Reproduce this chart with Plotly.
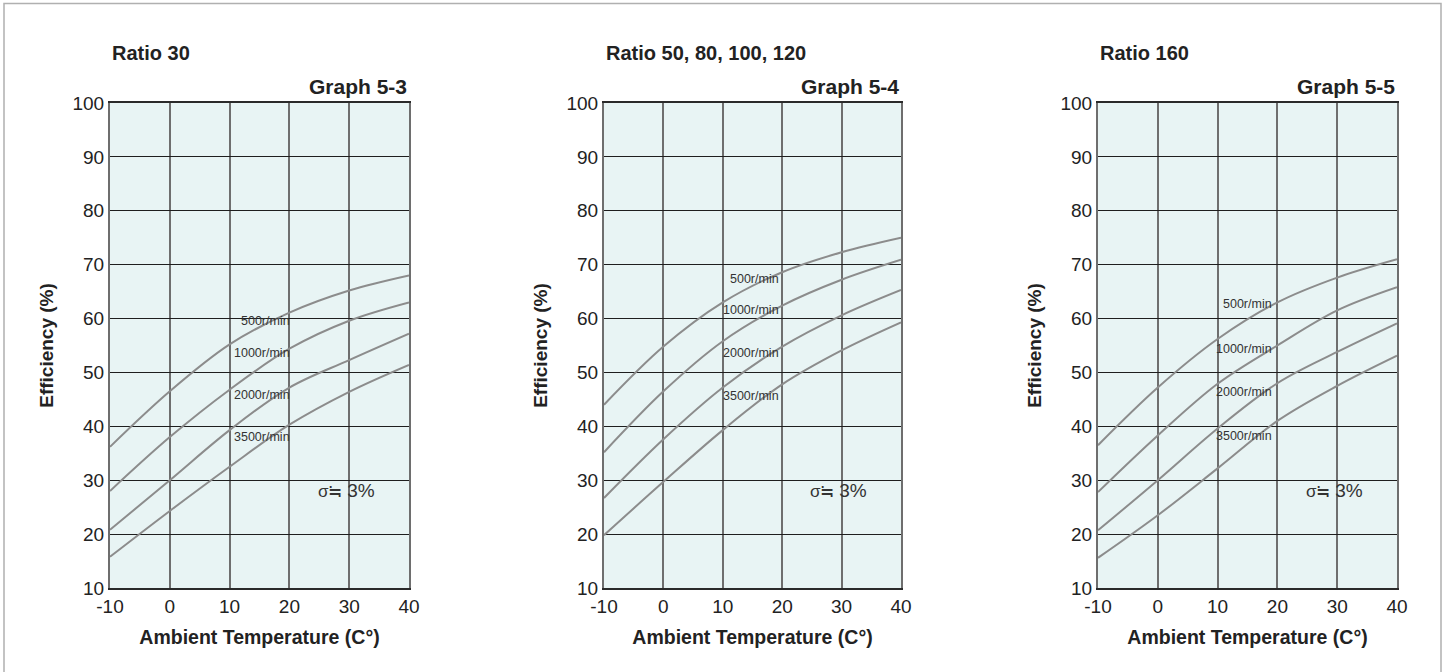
import plotly.graph_objects as go

# ---- data ----
temps = [-10, 0, 10, 20, 30, 40]
speeds = ["500r/min", "1000r/min", "2000r/min", "3500r/min"]

ratio30_500 = [36.2, 46.5, 55.2, 61.1, 65.2, 68.0]
ratio30_1000 = [28.0, 38.0, 46.8, 54.4, 59.6, 63.0]
ratio30_2000 = [20.8, 30.0, 39.3, 47.2, 52.3, 57.2]
ratio30_3500 = [15.8, 24.3, 32.5, 40.3, 46.4, 51.4]

ratio50_500 = [44.0, 54.8, 63.0, 68.6, 72.3, 75.0]
ratio50_1000 = [35.2, 46.5, 55.8, 62.4, 67.2, 70.9]
ratio50_2000 = [26.7, 37.6, 47.2, 54.8, 60.6, 65.3]
ratio50_3500 = [19.8, 29.7, 39.3, 47.8, 54.1, 59.3]

ratio160_500 = [36.5, 47.2, 56.2, 63.0, 67.6, 71.0]
ratio160_1000 = [27.8, 38.3, 47.9, 55.0, 61.5, 65.8]
ratio160_2000 = [20.7, 30.0, 39.6, 48.0, 53.8, 59.1]
ratio160_3500 = [15.6, 23.5, 32.2, 41.0, 47.5, 53.1]

ratio_titles = ["Ratio 30", "Ratio 50, 80, 100, 120", "Ratio 160"]
graph_titles = ["Graph 5-3", "Graph 5-4", "Graph 5-5"]

# label placement (temperature of right edge, efficiency) per chart
label_x = [20.4, 19.8, 19.4]
label_y = [
    [59.6, 53.6, 45.9, 38.0],
    [67.4, 61.5, 53.6, 45.7],
    [62.7, 54.4, 46.4, 38.2],
]
sigma_pos = [24.4, 28.1]

x_ticks = [-10, 0, 10, 20, 30, 40]
y_ticks = [10, 20, 30, 40, 50, 60, 70, 80, 90, 100]

charts = [
    [ratio30_500, ratio30_1000, ratio30_2000, ratio30_3500],
    [ratio50_500, ratio50_1000, ratio50_2000, ratio50_3500],
    [ratio160_500, ratio160_1000, ratio160_2000, ratio160_3500],
]

# ---- layout geometry ----
W, H = 1445, 672
x_domains_px = [(110, 409), (604, 901), (1098, 1397)]
y_domain = [1 - 588 / H, 1 - 103 / H]

FONT = "Liberation Sans, Arial, sans-serif"
CURVE = "#8c8c8c"

fig = go.Figure()
annotations = []
layout_axes = {}

for i, series in enumerate(charts):
    n = "" if i == 0 else str(i + 1)
    xa, ya = "x" + n, "y" + n
    for s_name, vals in zip(speeds, series):
        fig.add_trace(go.Scatter(
            x=temps, y=vals, mode="lines", name=s_name,
            line=dict(color=CURVE, width=2, shape="spline", smoothing=1.0),
            xaxis=xa, yaxis=ya, showlegend=False, hoverinfo="skip"))
    x0, x1 = x_domains_px[i]
    layout_axes["xaxis" + n] = dict(
        domain=[x0 / W, x1 / W], anchor=ya, range=[-10, 40],
        tickvals=x_ticks, ticktext=[str(v) for v in x_ticks],
        showgrid=True, gridcolor="#6e6e6e", gridwidth=1.6,
        showline=True, linecolor="#2a2a2a", linewidth=2, mirror=True,
        zeroline=False, ticks="", automargin=False,
        tickfont=dict(size=19, color="#222", family=FONT),
        title=dict(text="Ambient Temperature (C°)", standoff=15,
                   font=dict(size=19.5, color="#222", family=FONT, weight="bold")),
        fixedrange=True)
    layout_axes["yaxis" + n] = dict(
        domain=y_domain, anchor=xa, range=[10, 100],
        tickvals=y_ticks, ticktext=[str(v) for v in y_ticks],
        showgrid=True, gridcolor="#1e1e1e", gridwidth=1.3,
        showline=True, linecolor="#6e6e6e", linewidth=2, mirror=True,
        zeroline=False, ticks="", automargin=False,
        tickfont=dict(size=19, color="#222", family=FONT),
        title=dict(text="Efficiency (%)", standoff=14,
                   font=dict(size=19, color="#222", family=FONT, weight="bold")),
        fixedrange=True)

    # titles
    annotations.append(dict(
        xref="paper", yref="paper", x=x0 / W, y=1 - 53 / H,
        xanchor="left", yanchor="middle", showarrow=False,
        text=ratio_titles[i],
        font=dict(size=20, color="#222", family=FONT, weight="bold")))
    annotations.append(dict(
        xref="paper", yref="paper", x=x1 / W, y=1 - 87 / H,
        xanchor="right", yanchor="middle", showarrow=False,
        text=graph_titles[i],
        font=dict(size=21, color="#222", family=FONT, weight="bold")))
    # curve labels
    for s_name, ly in zip(speeds, label_y[i]):
        annotations.append(dict(
            xref=xa, yref=ya, x=label_x[i], y=ly,
            xanchor="right", yanchor="middle", showarrow=False,
            text=s_name, font=dict(size=12.5, color="#333", family=FONT)))
    # sigma note
    annotations.append(dict(
        xref=xa, yref=ya, x=sigma_pos[0], y=sigma_pos[1],
        xanchor="left", yanchor="middle", showarrow=False,
        text='σ≒ <span style="font-size:19px">3%</span>',
        font=dict(size=17, color="#333", family=FONT)))

fig.update_layout(
    width=W, height=H,
    margin=dict(l=0, r=0, t=0, b=0, autoexpand=False),
    paper_bgcolor="white",
    plot_bgcolor="#e8f4f4",
    font=dict(family=FONT, color="#222"),
    annotations=annotations,
    shapes=[dict(type="rect", xref="paper", yref="paper",
                 x0=4 / W, x1=1441 / W, y0=-0.05, y1=1 - 3.5 / H,
                 line=dict(color="#b0b0b0", width=1.5), layer="below")],
    **layout_axes,
)

fig.write_html(
    "out.html",
    config={"displayModeBar": False},
    post_script="document.body.style.margin='0';document.body.style.padding='0';"
                "document.body.style.overflow='hidden';",
)
